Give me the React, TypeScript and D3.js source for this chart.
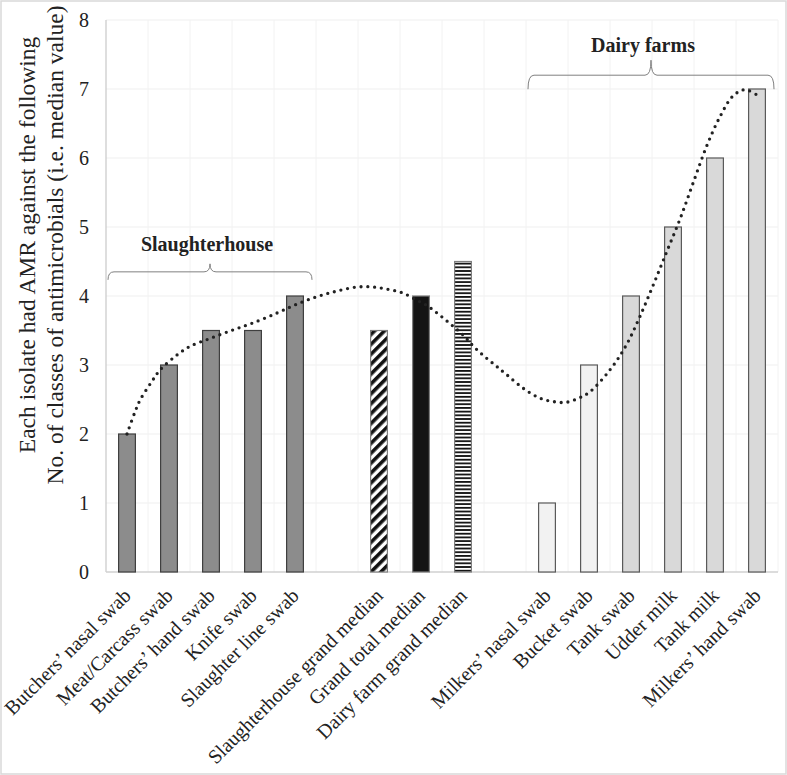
import React from "react";
import * as d3 from "d3";

// ---------- data ----------
const categories: string[] = [
  "Butchers’ nasal swab",
  "Meat/Carcass swab",
  "Butchers’ hand swab",
  "Knife swab",
  "Slaughter line swab",
  "",
  "Slaughterhouse grand median",
  "Grand total median",
  "Dairy farm grand median",
  "",
  "Milkers’ nasal swab",
  "Bucket swab",
  "Tank swab",
  "Udder milk",
  "Tank milk",
  "Milkers’ hand swab",
];

const values: (number | null)[] = [2, 3, 3.5, 3.5, 4, null, 3.5, 4, 4.5, null, 1, 3, 4, 5, 6, 7];

const barKind: (string | null)[] = [
  "slaughter", "slaughter", "slaughter", "slaughter", "slaughter",
  null,
  "slaughterMedian", "totalMedian", "dairyMedian",
  null,
  "dairyLight", "dairyLight", "dairy", "dairy", "dairy", "dairy",
];

const yTicks: number[] = [0, 1, 2, 3, 4, 5, 6, 7, 8];

const yTitle: string[] = [
  "Each isolate had AMR against the following",
  "No. of classes of antimicrobials (i.e. median value)",
];

// dotted trend line (category position, value)
const trendPos: number[] = [
  0.0, 0.19, 0.31, 0.59, 0.79, 1.18, 1.5, 2.0, 2.53, 3.0, 3.56, 4.0, 4.52, 4.99,
  5.47, 5.86, 6.18, 6.54, 6.9, 7.17, 7.45, 7.73, 8.01, 8.25, 8.52, 8.8, 9.04,
  9.44, 9.83, 10.15, 10.46, 10.79, 11.02, 11.5, 11.88, 12.21, 12.53, 12.85,
  13.17, 13.48, 13.8, 14.12, 14.43, 14.71, 14.98,
];
const trendVal: number[] = [
  2.0, 2.32, 2.49, 2.76, 2.93, 3.14, 3.27, 3.39, 3.51, 3.61, 3.75, 3.87, 3.99, 4.07,
  4.13, 4.13, 4.1, 4.05, 3.94, 3.85, 3.72, 3.58, 3.43, 3.27, 3.12, 2.98, 2.86,
  2.66, 2.52, 2.47, 2.46, 2.53, 2.61, 2.93, 3.28, 3.7, 4.16, 4.64,
  5.12, 5.64, 6.17, 6.6, 6.9, 6.99, 6.92,
];

const groupNames: string[] = ["Slaughterhouse", "Dairy farms"];
const groupStart: number[] = [0, 10];
const groupEnd: number[] = [4, 15];

// ---------- layout / style ----------
const W = 787;
const H = 775;
const M = { left: 106, right: 778, top: 20, bottom: 572 };
const SERIF = "'Liberation Serif', 'Times New Roman', Times, serif";

const fills: Record<string, { fill: string; stroke: string }> = {
  slaughter: { fill: "#8c8c8c", stroke: "#3f3f3f" },
  slaughterMedian: { fill: "url(#diagHatch)", stroke: "#7f7f7f" },
  totalMedian: { fill: "#141414", stroke: "#7f7f7f" },
  dairyMedian: { fill: "url(#hStripes)", stroke: "#7f7f7f" },
  dairyLight: { fill: "#f2f2f2", stroke: "#5a5a5a" },
  dairy: { fill: "#d9d9d9", stroke: "#5a5a5a" },
};

// bracket geometry per group (value level, end drop px, tip rise px, label offset)
const bracketLayout = [
  { level: 4.35, drop: 8, rise: 8, labelDx: -3, labelDy: -13 },
  { level: 7.2, drop: 14, rise: 15, labelDx: -8, labelDy: -8 },
];

export default function App() {
  const idx = d3.range(categories.length);
  const x = d3.scaleBand<number>().domain(idx).range([M.left, M.right]).padding(0);
  const xPos = d3
    .scaleLinear()
    .domain([-0.5, categories.length - 0.5])
    .range([M.left, M.right]);
  const y = d3.scaleLinear().domain([0, 8]).range([M.bottom, M.top]);
  const bw = x.bandwidth() * 0.4;

  const trendLine = d3
    .line<number>()
    .x((_, i) => xPos(trendPos[i]))
    .y((_, i) => y(trendVal[i]))
    .curve(d3.curveCatmullRom.alpha(0.5));

  const bracketPath = (x0: number, x1: number, yl: number, drop: number, rise: number) => {
    const xm = (x0 + x1) / 2;
    const r = 6;
    return [
      `M${x0},${yl + drop}`,
      `Q${x0},${yl} ${x0 + r},${yl}`,
      `L${xm - r},${yl}`,
      `Q${xm},${yl} ${xm},${yl - rise}`,
      `Q${xm},${yl} ${xm + r},${yl}`,
      `L${x1 - r},${yl}`,
      `Q${x1},${yl} ${x1},${yl + drop}`,
    ].join(" ");
  };

  return (
    <svg
      width={W}
      height={H}
      viewBox={`0 0 ${W} ${H}`}
      style={{ position: "absolute", left: 0, top: 0, background: "#fff" }}
    >
      <defs>
        <pattern
          id="diagHatch"
          patternUnits="userSpaceOnUse"
          width={7}
          height={7}
          patternTransform="rotate(45)"
        >
          <rect width={7} height={7} fill="#fff" />
          <rect width={3.6} height={7} fill="#111" />
        </pattern>
        <pattern id="hStripes" patternUnits="userSpaceOnUse" width={4} height={3.7}>
          <rect width={4} height={3.7} fill="#fff" />
          <rect width={4} height={1.8} fill="#111" />
        </pattern>
      </defs>

      <rect x={1} y={1} width={W - 2} height={H - 2} fill="#fff" stroke="#d9d9d9" strokeWidth={1.5} />

      {/* gridlines */}
      {yTicks
        .filter((t) => t > 0)
        .map((t) => (
          <line key={"gy" + t} x1={M.left} x2={M.right} y1={y(t)} y2={y(t)} stroke="#efefef" strokeWidth={1} />
        ))}
      {idx.map((i) => (
        <line
          key={"gx" + i}
          x1={(x(i) as number) + x.bandwidth()}
          x2={(x(i) as number) + x.bandwidth()}
          y1={M.top}
          y2={M.bottom}
          stroke="#f2f2f2"
          strokeWidth={1}
        />
      ))}

      {/* axes */}
      <line x1={M.left} x2={M.left} y1={M.top} y2={M.bottom} stroke="#c8c8c8" strokeWidth={1.2} />
      <line x1={M.left} x2={M.right} y1={M.bottom} y2={M.bottom} stroke="#d0d0d0" strokeWidth={1.6} />

      {/* y tick labels */}
      {yTicks.map((t) => (
        <text
          key={"yt" + t}
          x={89}
          y={y(t)}
          dy="0.35em"
          textAnchor="end"
          fontFamily={SERIF}
          fontSize={20}
          fill="#222"
        >
          {t}
        </text>
      ))}

      {/* y title */}
      {yTitle.map((s, i) => (
        <text
          key={"ytl" + i}
          transform={`translate(${34.5 + i * 28.5},245) rotate(-90)`}
          textAnchor="middle"
          fontFamily={SERIF}
          fontSize={23.5}
          fill="#222"
        >
          {s}
        </text>
      ))}

      {/* bars */}
      {idx.map((i) => {
        const v = values[i];
        const k = barKind[i];
        if (v == null || k == null) return null;
        const st = fills[k];
        const cx = (x(i) as number) + x.bandwidth() / 2;
        return (
          <rect
            key={"b" + i}
            x={cx - bw / 2}
            y={y(v)}
            width={bw}
            height={y(0) - y(v)}
            fill={st.fill}
            stroke={st.stroke}
            strokeWidth={1.2}
          />
        );
      })}

      {/* trend line */}
      <path
        d={trendLine(trendPos) || ""}
        fill="none"
        stroke="#222"
        strokeWidth={3.3}
        strokeLinecap="round"
        strokeDasharray="0 6.8"
      />

      {/* x category labels */}
      {idx.map((i) =>
        categories[i] ? (
          <text
            key={"xl" + i}
            transform={`translate(${(x(i) as number) + x.bandwidth() / 2 + 5},597) rotate(-45)`}
            textAnchor="end"
            fontFamily={SERIF}
            fontSize={20}
            fill="#222"
          >
            {categories[i]}
          </text>
        ) : null
      )}

      {/* group brackets */}
      {groupNames.map((g, gi) => {
        const L = bracketLayout[gi];
        const x0 = (x(groupStart[gi]) as number) + 2;
        const x1 = (x(groupEnd[gi]) as number) + x.bandwidth() - 4;
        const yl = y(L.level);
        const xm = (x0 + x1) / 2;
        return (
          <g key={"grp" + gi}>
            <path d={bracketPath(x0, x1, yl, L.drop, L.rise)} fill="none" stroke="#808080" strokeWidth={1} />
            <text
              x={xm + L.labelDx}
              y={yl - L.rise + L.labelDy}
              textAnchor="middle"
              fontFamily={SERIF}
              fontWeight="bold"
              fontSize={20}
              fill="#222"
            >
              {g}
            </text>
          </g>
        );
      })}
    </svg>
  );
}
